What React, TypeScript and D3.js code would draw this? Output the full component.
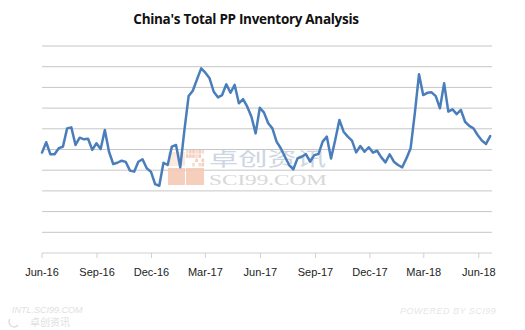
import React from "react";
import * as d3 from "d3";

const TITLE = "China's Total PP Inventory Analysis";
const START_DATE = "2016-06-01";
const END_DATE = "2018-06-23";
const gridLevels = [0, 1, 2, 3, 4, 5, 6, 7, 8, 9, 10];
const inventory = [
  4.85, 5.35, 4.77, 4.77, 5.06, 5.14, 6.02, 6.07, 5.22, 5.57,
  5.49, 5.52, 4.98, 5.30, 5.02, 5.94, 4.89, 4.30, 4.36, 4.46,
  4.40, 3.98, 3.93, 4.41, 4.53, 4.09, 3.93, 3.33, 3.25, 4.36,
  4.25, 5.14, 5.22, 4.14, 5.94, 7.58, 7.84, 8.39, 8.92, 8.71,
  8.44, 7.79, 7.52, 7.63, 8.15, 7.74, 8.12, 7.23, 7.43, 7.07,
  6.58, 5.78, 7.02, 6.78, 6.27, 6.02, 5.38, 5.06, 4.65, 4.25,
  4.04, 4.57, 4.65, 4.78, 4.41, 4.73, 4.78, 5.38, 5.62, 4.57,
  5.46, 6.43, 5.86, 5.62, 5.43, 4.86, 5.17, 4.89, 5.11, 4.85,
  4.94, 4.62, 4.38, 4.77, 4.41, 4.25, 4.14, 4.57, 5.06, 6.75,
  8.63, 7.63, 7.74, 7.76, 7.58, 6.99, 8.20, 6.83, 6.94, 6.71,
  6.91, 6.34, 6.14, 6.02, 5.70, 5.43, 5.27, 5.65,
];

const W = 525;
const H = 330;
const M = { left: 42, right: 33, top: 46, bottom: 77 };

export default function App() {
  const start = new Date(START_DATE + "T00:00:00");
  const end = new Date(END_DATE + "T00:00:00");
  const data = inventory.map((v, i) => ({ date: d3.timeDay.offset(start, i * 7), v }));

  const x = d3.scaleTime().domain([start, end]).range([M.left, W - M.right]);
  const y = d3.scaleLinear().domain([0, 10]).range([H - M.bottom, M.top]);

  const line = d3
    .line<{ date: Date; v: number }>()
    .x((d) => x(d.date))
    .y((d) => y(d.v))
    .curve(d3.curveLinear);

  const ticks = d3.timeMonth.range(start, d3.timeDay.offset(end, 1), 3);
  const fmt = d3.timeFormat("%b-%y");

  const axisY = y(0);

  const iconSmall = [
    [0, 0], [1, 0], [2, 0], [3, 0], [0, 1], [2, 1], [3, 1], [1, 1],
    [4, 0], [5, 0], [4, 1], [5, 2], [4, 3], [5, 3], [3, 2], [2, 3],
  ];

  return (
    <svg
      width={W}
      height={H}
      style={{ position: "absolute", left: 0, top: 0, background: "#fff" }}
      fontFamily="'Liberation Sans', Arial, sans-serif"
    >
      <rect x={0} y={0} width={W} height={H} fill="#fff" />
      <text
        x={246}
        y={24}
        textAnchor="middle"
        fontSize={13.5}
        fontWeight="bold"
        fill="#111"
        fontFamily="'Open Sans', 'Liberation Sans', sans-serif"
        letterSpacing={-0.3}
      >
        {TITLE}
      </text>

      {gridLevels.slice(1).map((g) => (
        <line
          key={g}
          x1={M.left}
          x2={W - M.right}
          y1={y(g)}
          y2={y(g)}
          stroke="#c6c6c6"
          strokeWidth={1}
        />
      ))}

      {/* watermark */}
      <g opacity={0.9}>
        <g transform="translate(168,150)">
          <rect x={0} y={18} width={17} height={17} fill="#f6c9b5" />
          {iconSmall.map(([cx, cy], i) => (
            <rect
              key={i}
              x={18 + cx * 3.1}
              y={cy * 4.3}
              width={2.6}
              height={3.6}
              fill={i % 3 === 0 ? "#f8d8ca" : "#f6c9b5"}
            />
          ))}
          <rect x={18} y={18} width={18} height={17} fill="#f6c9b5" />
          <rect x={0} y={2} width={17} height={14} fill="#f8d5c5" opacity={0.6} />
        </g>
        <text
          x={209}
          y={166}
          fontSize={19}
          fill="#c9d2de"
          fontFamily="'Noto Sans CJK SC', sans-serif"
          textLength={117}
          lengthAdjust="spacingAndGlyphs"
        >
          卓创资讯
        </text>
        <text
          x={209}
          y={185}
          fontSize={15}
          fill="#d4d4d4"
          fontFamily="'Liberation Serif', serif"
          textLength={118}
          lengthAdjust="spacingAndGlyphs"
        >
          SCI99.COM
        </text>
      </g>

      <path
        d={line(data) ?? ""}
        fill="none"
        stroke="#4a7ebb"
        strokeWidth={2.5}
        strokeLinejoin="round"
        strokeLinecap="round"
      />

      <line x1={M.left} x2={W - M.right} y1={axisY} y2={axisY} stroke="#d0d0d0" strokeWidth={1} />
      {ticks.map((t, i) => (
        <g key={i} transform={`translate(${x(t)},0)`}>
          <line y1={axisY} y2={axisY + 5} stroke="#d0d0d0" strokeWidth={1} />
          <text y={axisY + 23} textAnchor="middle" fontSize={11} fill="#222">
            {fmt(t)}
          </text>
        </g>
      ))}

      <text x={12} y={313} fontSize={9} fontStyle="italic" fill="#e0e0e0">
        INTL.SCI99.COM
      </text>
      <g transform="translate(8,317)">
        <path d="M2,2 a5,5 0 1,0 8,6" fill="none" stroke="#e0e0e0" strokeWidth={1.5} />
        <text x={22} y={9} fontSize={10} fill="#e0e0e0" fontFamily="'Noto Sans CJK SC', sans-serif">
          卓创资讯
        </text>
      </g>
      <text x={400} y={314} fontSize={9} fontStyle="italic" fill="#e6e6e6" letterSpacing={0.5}>
        POWERED BY SCI99
      </text>
    </svg>
  );
}
